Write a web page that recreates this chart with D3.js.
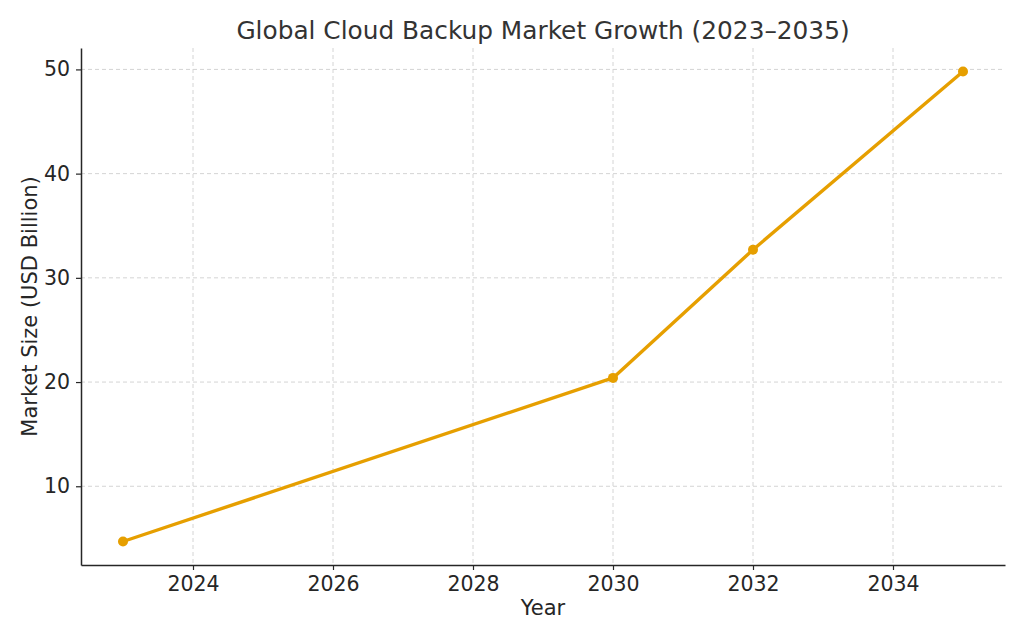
<!DOCTYPE html>
<html><head><meta charset="utf-8">
<script src="https://cdn.jsdelivr.net/npm/d3@7"></script>
<style>
html,body{margin:0;padding:0;background:#fff;}
svg{display:block;font-family:"DejaVu Sans",sans-serif;}
</style></head>
<body>
<svg id="chart" width="1024" height="640"></svg>
<script>
const years = [2023, 2030, 2032, 2035];
const marketSize = [4.7, 20.4, 32.7, 49.8];
const xTicks = [2024, 2026, 2028, 2030, 2032, 2034];
const yTicks = [10, 20, 30, 40, 50];
const title = "Global Cloud Backup Market Growth (2023–2035)";
const xLabel = "Year";
const yLabel = "Market Size (USD Billion)";

const svg = d3.select("#chart");
const m = {left: 81, right: 1005, top: 48, bottom: 565};
const textColor = "#262626";

const x = d3.scaleLinear().domain([2022.4, 2035.6]).range([m.left, m.right]);
const y = d3.scaleLinear().domain([2.445, 52.055]).range([m.bottom, m.top]);

// grid
const grid = svg.append("g");
grid.selectAll("line.vx").data(xTicks).join("line")
  .attr("x1", d => x(d)).attr("x2", d => x(d))
  .attr("y1", m.top).attr("y2", m.bottom)
  .attr("stroke", "#d4d4d4").attr("stroke-width", 1).attr("stroke-dasharray", "4,3");
grid.selectAll("line.hy").data(yTicks).join("line")
  .attr("y1", d => y(d)).attr("y2", d => y(d))
  .attr("x1", m.left).attr("x2", m.right)
  .attr("stroke", "#d4d4d4").attr("stroke-width", 1).attr("stroke-dasharray", "4,3");

// axes
const xAxis = svg.append("g").attr("transform", `translate(0,${m.bottom})`)
  .call(d3.axisBottom(x).tickValues(xTicks).tickFormat(d3.format("d")).tickSize(5).tickPadding(6).tickSizeOuter(0));
const yAxis = svg.append("g").attr("transform", `translate(${m.left},0)`)
  .call(d3.axisLeft(y).tickValues(yTicks).tickFormat(d3.format("d")).tickSize(5).tickPadding(6).tickSizeOuter(0));
[xAxis, yAxis].forEach(a => {
  a.select(".domain").attr("stroke", textColor).attr("stroke-width", 1.5);
  a.selectAll(".tick line").attr("stroke", textColor).attr("stroke-width", 1.2);
  a.selectAll(".tick text").attr("fill", textColor).attr("font-size", 20.5)
    .attr("font-family", "DejaVu Sans, sans-serif");
});

// line
const line = d3.line().x((d, i) => x(years[i])).y(d => y(d));
svg.append("path").datum(marketSize).attr("d", line)
  .attr("fill", "none").attr("stroke", "#E69F00").attr("stroke-width", 3.4)
  .attr("stroke-linejoin", "round");
svg.selectAll("circle.pt").data(marketSize).join("circle")
  .attr("cx", (d, i) => x(years[i])).attr("cy", d => y(d)).attr("r", 5)
  .attr("fill", "#E69F00");

// labels
svg.append("text").attr("x", (m.left + m.right) / 2).attr("y", 39)
  .attr("text-anchor", "middle").attr("font-size", 24.8).attr("fill", "#333")
  .text(title);
svg.append("text").attr("x", (m.left + m.right) / 2).attr("y", 615)
  .attr("text-anchor", "middle").attr("font-size", 21).attr("fill", textColor)
  .text(xLabel);
svg.append("text").attr("transform", `translate(37,${(m.top + m.bottom) / 2}) rotate(-90)`)
  .attr("text-anchor", "middle").attr("font-size", 21).attr("fill", textColor)
  .text(yLabel);
</script>
</body></html>
